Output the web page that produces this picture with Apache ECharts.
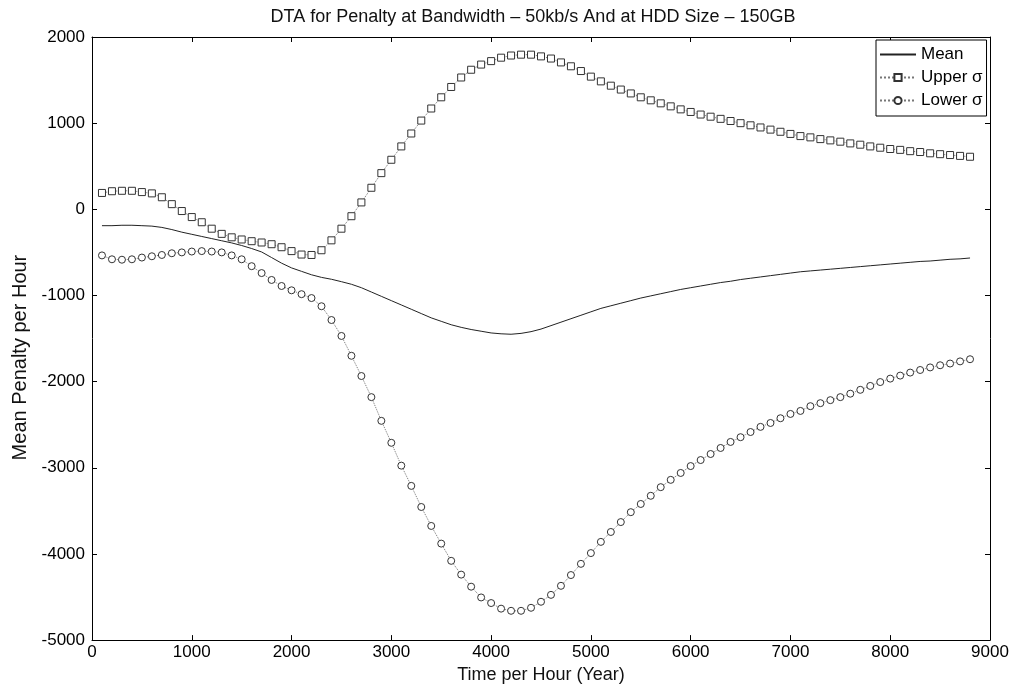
<!DOCTYPE html>
<html>
<head>
<meta charset="utf-8">
<script src="https://cdn.jsdelivr.net/npm/echarts@6/dist/echarts.min.js"></script>
<style>
  html, body { margin: 0; padding: 0; background: #fff; }
  #main { width: 1021px; height: 689px; }
</style>
</head>
<body>
<div id="main"></div>
<script>
// sample times (x), one marker every 100
const times = [
  100, 200, 300, 400, 500, 600, 700, 800, 900, 1000,
  1100, 1200, 1300, 1400, 1500, 1600, 1700, 1800, 1900, 2000,
  2100, 2200, 2300, 2400, 2500, 2600, 2700, 2800, 2900, 3000,
  3100, 3200, 3300, 3400, 3500, 3600, 3700, 3800, 3900, 4000,
  4100, 4200, 4300, 4400, 4500, 4600, 4700, 4800, 4900, 5000,
  5100, 5200, 5300, 5400, 5500, 5600, 5700, 5800, 5900, 6000,
  6100, 6200, 6300, 6400, 6500, 6600, 6700, 6800, 6900, 7000,
  7100, 7200, 7300, 7400, 7500, 7600, 7700, 7800, 7900, 8000,
  8100, 8200, 8300, 8400, 8500, 8600, 8700, 8800
];

const meanVals = [
  -190, -190, -185, -185, -190, -195, -210, -235, -265, -290,
  -315, -340, -365, -390, -420, -455, -495, -560, -625, -680,
  -720, -760, -790, -812, -840, -870, -910, -960, -1010, -1060,
  -1110, -1160, -1210, -1260, -1300, -1340, -1370, -1395, -1415, -1435,
  -1445, -1450, -1440, -1420, -1390, -1350, -1310, -1270, -1230, -1190,
  -1150, -1120, -1090, -1060, -1030, -1005, -980, -955, -930, -910,
  -890, -870, -850, -835, -815, -800, -785, -770, -755, -740,
  -725, -715, -705, -695, -685, -675, -665, -655, -645, -635,
  -625, -615, -605, -600, -590, -580, -575, -565
];

const upperVals = [
  190, 210, 215, 215, 200, 185, 140, 60, -20, -90,
  -150, -225, -285, -325, -350, -370, -385, -405, -440, -485,
  -525, -530, -475, -360, -225, -80, 80, 250, 420, 575,
  730, 880, 1030, 1170, 1300, 1420, 1530, 1620, 1680, 1720,
  1760, 1785, 1795, 1795, 1775, 1750, 1705, 1660, 1605, 1540,
  1485, 1435, 1390, 1345, 1300, 1265, 1230, 1195, 1160, 1130,
  1100, 1075, 1050, 1025, 1000, 975, 950, 925, 900, 875,
  850, 835, 815, 800, 785, 765, 750, 730, 715, 700,
  690, 675, 665, 650, 640, 630, 620, 610
];

const lowerVals = [
  -535, -580, -585, -580, -560, -545, -530, -510, -500, -490,
  -485, -490, -500, -535, -580, -660, -740, -820, -890, -940,
  -985, -1030, -1125, -1285, -1470, -1700, -1935, -2180, -2455, -2710,
  -2975, -3210, -3455, -3675, -3880, -4080, -4240, -4380, -4505, -4570,
  -4635, -4660, -4660, -4625, -4555, -4475, -4370, -4245, -4115, -3990,
  -3860, -3745, -3630, -3515, -3420, -3325, -3225, -3140, -3060, -2980,
  -2910, -2840, -2770, -2700, -2645, -2585, -2525, -2480, -2425, -2375,
  -2340, -2285, -2250, -2215, -2180, -2140, -2095, -2050, -2005, -1965,
  -1930, -1895, -1865, -1835, -1810, -1790, -1765, -1740
];

const FONT = 'Liberation Sans, Arial, sans-serif';

function pairs(vals) {
  return times.map((t, i) => [t, vals[i]]);
}

const chart = echarts.init(document.getElementById('main'));

const boxAxisX = {
  type: 'value', min: 0, max: 9000, interval: 1000,
  axisLine: { show: true, onZero: false, lineStyle: { color: '#000', width: 1 } },
  axisTick: { show: true, inside: true, length: 5, lineStyle: { color: '#000' } },
  splitLine: { show: false }
};
const boxAxisY = {
  type: 'value', min: -5000, max: 2000, interval: 1000,
  axisLine: { show: true, onZero: false, lineStyle: { color: '#000', width: 1 } },
  axisTick: { show: true, inside: true, length: 5, lineStyle: { color: '#000' } },
  splitLine: { show: false }
};

chart.setOption({
  animation: false,
  backgroundColor: '#fff',
  title: {
    text: 'DTA for Penalty at Bandwidth – 50kb/s And at HDD Size – 150GB',
    left: 528, textAlign: 'center', top: 3,
    textStyle: { fontFamily: FONT, fontSize: 18, fontWeight: 'normal', color: '#111' }
  },
  grid: { left: 92, right: 31, top: 37, bottom: 48, containLabel: false },
  legend: {
    data: [
      { name: 'Mean', itemStyle: { opacity: 0 } },
      { name: 'Upper σ' },
      { name: 'Lower σ' }
    ],
    orient: 'vertical',
    left: 876, top: 40,
    padding: [6, 4, 7, 3],
    itemGap: 6,
    itemWidth: 36, itemHeight: 9,
    backgroundColor: '#fff',
    borderColor: '#000', borderWidth: 1, borderRadius: 0,
    textStyle: { fontFamily: FONT, fontSize: 17, color: '#000' }
  },
  xAxis: [
    Object.assign({}, boxAxisX, {
      position: 'bottom',
      name: 'Time per Hour (Year)', nameLocation: 'middle', nameGap: 23,
      nameTextStyle: { fontFamily: FONT, fontSize: 18, color: '#111' },
      axisLabel: { show: true, margin: 4, fontFamily: FONT, fontSize: 17, color: '#000',
        formatter: v => String(v) }
    }),
    Object.assign({}, boxAxisX, { position: 'top', axisLabel: { show: false } })
  ],
  yAxis: [
    Object.assign({}, boxAxisY, {
      position: 'left',
      name: 'Mean Penalty per Hour', nameLocation: 'middle', nameGap: 62,
      nameTextStyle: { fontFamily: FONT, fontSize: 20, color: '#111', padding: [0, 38, 0, 0] },
      axisLabel: { show: true, margin: 7, fontFamily: FONT, fontSize: 17, color: '#000',
        formatter: v => String(v) }
    }),
    Object.assign({}, boxAxisY, { position: 'right', axisLabel: { show: false } })
  ],
  series: [
    {
      name: 'Mean', type: 'line', xAxisIndex: 0, yAxisIndex: 0,
      data: pairs(meanVals),
      symbol: 'none', smooth: false,
      lineStyle: { color: '#222', width: 1, type: 'solid' },
      itemStyle: { color: '#222' }
    },
    {
      name: 'Upper σ', type: 'line', xAxisIndex: 0, yAxisIndex: 0,
      data: pairs(upperVals),
      symbol: 'rect', symbolSize: 7, showSymbol: true,
      lineStyle: { color: '#777', width: 1, type: 'dotted' },
      itemStyle: { color: '#fff', borderColor: '#333', borderWidth: 1 }
    },
    {
      name: 'Lower σ', type: 'line', xAxisIndex: 0, yAxisIndex: 0,
      data: pairs(lowerVals),
      symbol: 'circle', symbolSize: 7, showSymbol: true,
      lineStyle: { color: '#777', width: 1, type: 'dotted' },
      itemStyle: { color: '#fff', borderColor: '#333', borderWidth: 1 }
    }
  ]
});
</script>
</body>
</html>
